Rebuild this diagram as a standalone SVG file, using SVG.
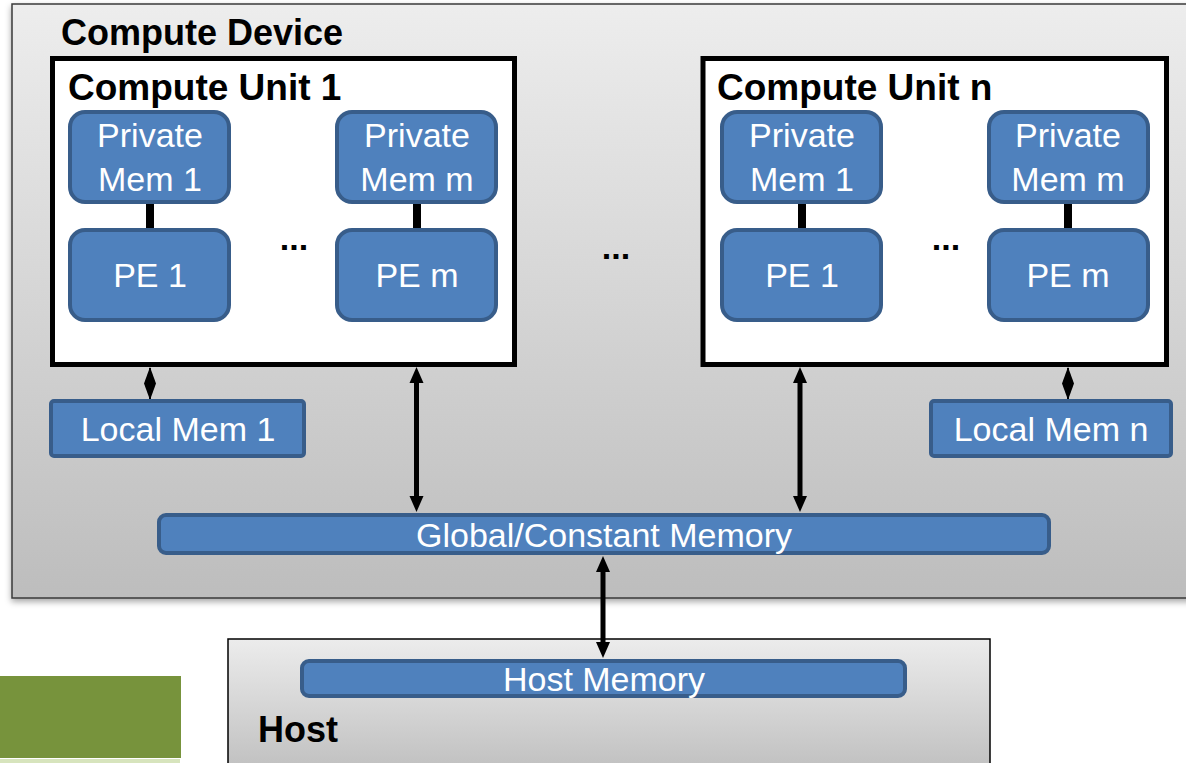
<svg xmlns="http://www.w3.org/2000/svg" width="1186" height="763" viewBox="0 0 1186 763">
<defs>
<linearGradient id="gDev" x1="0" y1="0" x2="0" y2="1">
<stop offset="0" stop-color="#ededed"/>
<stop offset="1" stop-color="#bdbdbd"/>
</linearGradient>
<linearGradient id="gHost" x1="0" y1="0" x2="0" y2="1">
<stop offset="0" stop-color="#ececec"/>
<stop offset="1" stop-color="#bdbdbd"/>
</linearGradient>
<filter id="sh" x="-5%" y="-5%" width="110%" height="115%">
<feDropShadow dx="0" dy="3" stdDeviation="3" flood-color="#000" flood-opacity="0.35"/>
</filter>
<marker id="ah" markerUnits="userSpaceOnUse" markerWidth="16" markerHeight="16" refX="1" refY="7" orient="auto-start-reverse" viewBox="0 0 16 14">
<path d="M0,0 L16,7 L0,14 Z" fill="#000"/>
</marker>
<style>
.blk{fill:#4f81bd;stroke:#385d8a;stroke-width:4}
.cu{fill:#fff;stroke:#000;stroke-width:5}
.wt{font-family:"Liberation Sans",Arial,sans-serif;font-size:34px;fill:#fff;text-anchor:middle}
.bt{font-family:"Liberation Sans",Arial,sans-serif;font-size:36px;font-weight:bold;fill:#000}
.cut{font-size:37px}
.dots{font-family:"Liberation Sans",Arial,sans-serif;font-size:34px;font-weight:bold;fill:#000;text-anchor:middle}
.bar{fill:#000}
.arr{stroke:#000;stroke-width:5;fill:none;marker-start:url(#ah);marker-end:url(#ah)}
</style>
</defs>

<g id="compute-device">
<rect x="12" y="4" width="1190" height="594" fill="url(#gDev)" stroke="#3a3a3a" stroke-width="1.5" filter="url(#sh)"/>
<text class="bt" x="61" y="45">Compute Device</text>
</g>

<g id="host">
<rect x="228" y="639" width="762" height="140" fill="url(#gHost)" stroke="#000" stroke-width="1.5"/>
<text class="bt" x="258" y="742">Host</text>
</g>

<g id="green-block">
<rect x="0" y="676" width="181" height="82" fill="#77933c"/>
<rect x="0" y="759" width="180" height="4" fill="#d7e4bd"/>
</g>

<g id="compute-unit-1">
<rect class="cu" x="52.5" y="58.5" width="462" height="306"/>
<text class="bt cut" x="68" y="100">Compute Unit 1</text>
</g>
<g id="compute-unit-n">
<rect class="cu" x="703" y="58.5" width="463.5" height="306"/>
<text class="bt cut" x="717" y="100">Compute Unit n</text>
</g>

<g id="connectors">
<rect class="bar" x="146" y="203" width="8" height="26"/>
<rect class="bar" x="413" y="203" width="8" height="26"/>
<rect class="bar" x="798" y="203" width="8" height="26"/>
<rect class="bar" x="1064" y="203" width="8" height="26"/>
<line x1="150" y1="368" x2="150" y2="399" stroke="#000" stroke-width="2"/>
<path d="M150,367 L156,383.5 L150,400 L144,383.5 Z" fill="#000"/>
<line x1="1068" y1="368" x2="1068" y2="399" stroke="#000" stroke-width="2"/>
<path d="M1068,367 L1074,383.5 L1068,400 L1062,383.5 Z" fill="#000"/>
<line class="arr" x1="416.5" y1="382" x2="416.5" y2="497"/>
<line class="arr" x1="800" y1="382" x2="800" y2="497"/>
<line class="arr" x1="603" y1="571" x2="603" y2="643"/>
</g>

<g id="pm1-cu1"><rect class="blk" x="70" y="112" width="159" height="90" rx="15"/><text class="wt" x="150" y="147">Private</text><text class="wt" x="150" y="191">Mem 1</text></g>
<g id="pmm-cu1"><rect class="blk" x="337" y="112" width="159" height="90" rx="15"/><text class="wt" x="417" y="147">Private</text><text class="wt" x="417" y="191">Mem m</text></g>
<g id="pe1-cu1"><rect class="blk" x="70" y="230" width="159" height="90" rx="15"/><text class="wt" x="150" y="287">PE 1</text></g>
<g id="pem-cu1"><rect class="blk" x="337" y="230" width="159" height="90" rx="15"/><text class="wt" x="417" y="287">PE m</text></g>
<text class="dots" x="294" y="250">...</text>

<g id="pm1-cun"><rect class="blk" x="722" y="112" width="159" height="90" rx="15"/><text class="wt" x="802" y="147">Private</text><text class="wt" x="802" y="191">Mem 1</text></g>
<g id="pmm-cun"><rect class="blk" x="989" y="112" width="159" height="90" rx="15"/><text class="wt" x="1068" y="147">Private</text><text class="wt" x="1068" y="191">Mem m</text></g>
<g id="pe1-cun"><rect class="blk" x="722" y="230" width="159" height="90" rx="15"/><text class="wt" x="802" y="287">PE 1</text></g>
<g id="pem-cun"><rect class="blk" x="989" y="230" width="159" height="90" rx="15"/><text class="wt" x="1068" y="287">PE m</text></g>
<text class="dots" x="946" y="250">...</text>
<text class="dots" x="616" y="259">...</text>

<g id="local-mem-1"><rect class="blk" x="51" y="401" width="253" height="55" rx="3"/><text class="wt" x="178" y="441">Local Mem 1</text></g>
<g id="local-mem-n"><rect class="blk" x="931" y="401" width="240" height="55" rx="3"/><text class="wt" x="1051" y="441">Local Mem n</text></g>
<g id="global-mem"><rect class="blk" x="159" y="515" width="890" height="38" rx="7"/><text class="wt" x="604" y="547">Global/Constant Memory</text></g>
<g id="host-mem"><rect class="blk" x="302" y="661" width="603" height="35" rx="7"/><text class="wt" x="604" y="691">Host Memory</text></g>
</svg>
